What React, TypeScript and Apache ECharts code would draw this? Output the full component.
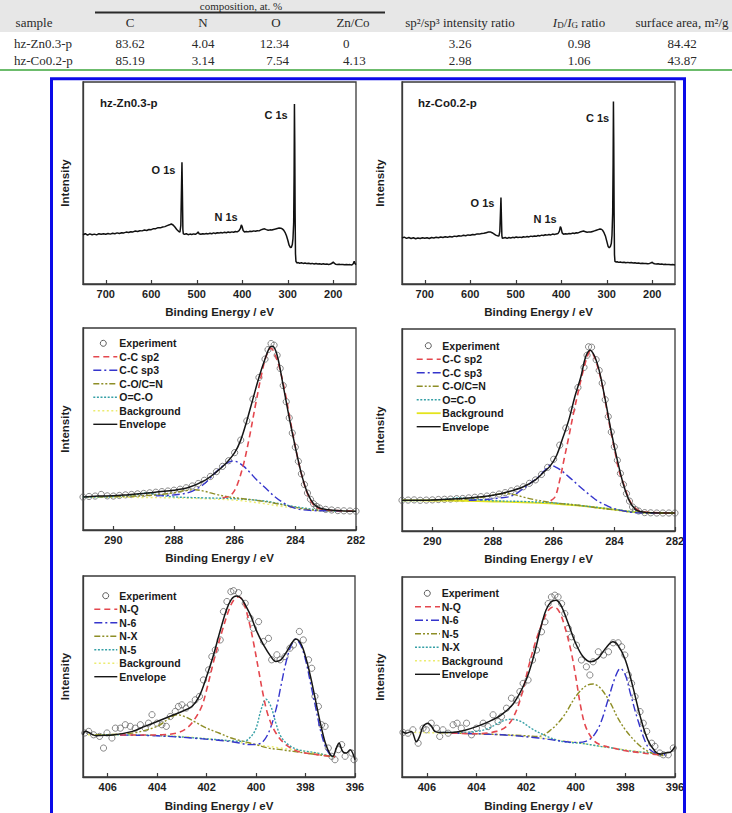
import React, { useEffect, useRef } from "react";
import * as echarts from "echarts";

type P = [number, number][];

// ---------- table ----------
const TABLE_HEAD = ["sample", "C", "N", "O", "Zn/Co", "sp²/sp³ intensity ratio", "{i|I}{s|D}/{i|I}{s|G} ratio", "surface area, m²/g"];
const ROW_ZN = ["hz-Zn0.3-p", "83.62", "4.04", "12.34", "0", "3.26", "0.98", "84.42"];
const ROW_CO = ["hz-Co0.2-p", "85.19", "3.14", "7.54", "4.13", "2.98", "1.06", "43.87"];

// ---------- survey spectra ----------
const surveyZn: P = [[750,24.4],[745,24.9],[740,24.2],[735,24.8],[730,24.4],[725,24.7],[720,24.3],[715,24.9],[710,24.6],[705,24.9],[700,24.6],[695,25.0],[690,24.7],[685,25.1],[680,24.9],[675,25.3],[670,25.0],[665,25.4],[660,25.3],[655,25.7],[650,25.5],[645,25.9],[640,25.8],[635,26.2],[630,26.0],[625,26.4],[620,26.3],[615,26.7],[610,26.5],[605,27.0],[600,26.9],[595,27.4],[590,27.4],[585,27.9],[580,27.8],[575,28.2],[570,28.4],[565,28.9],[560,29.3],[556,29.7],[552,29.2],[548,28.2],[544,27.0],[540,26.1],[537,25.7],[535,29],[533.5,48],[532.5,60.3],[531.5,45],[530.5,27],[529.5,24.8],[527,24.6],[523,24.9],[519,24.4],[515,24.7],[511,24.5],[507,24.8],[503,24.6],[499,25.2],[497,25.8],[495,24.9],[491,24.6],[487,24.9],[483,24.7],[479,25.0],[475,24.8],[471,25.1],[467,24.9],[463,25.3],[459,25.0],[455,25.4],[451,25.2],[447,25.5],[443,25.3],[439,25.6],[435,25.4],[431,25.7],[427,25.5],[423,25.8],[419,25.6],[415,26.0],[411,25.8],[407,26.4],[404,27.5],[402,29.3],[400.5,28.6],[398,26.5],[395,25.7],[391,26.0],[387,25.8],[383,26.1],[379,26.0],[375,26.3],[371,26.1],[367,26.4],[363,26.3],[359,26.8],[355,27.1],[351,27.3],[347,26.9],[343,26.6],[339,26.8],[335,26.7],[331,27.0],[327,27.2],[323,27.5],[319,27.7],[315,27.6],[312,27.3],[309,26.7],[306,25.6],[303,24.0],[300,21.8],[297,19.2],[294,18.0],[292,18.2],[290,19.5],[288.5,22.5],[287,30],[286,55],[285.3,89.1],[284.6,70],[283.8,35],[283,15],[282,11.2],[280,10.4],[277,10.6],[274,10.3],[270,10.5],[266,10.2],[262,10.4],[258,10.1],[254,10.3],[250,10.0],[246,10.2],[242,9.9],[238,10.1],[234,9.9],[230,10.0],[226,9.8],[222,10.0],[218,9.8],[214,9.9],[210,9.7],[206,9.9],[202,10.4],[200,10.9],[198,10.3],[195,9.8],[191,9.7],[187,9.8],[183,9.6],[179,9.7],[175,9.5],[171,9.6],[167,9.5],[163,9.6],[159,9.4],[156,10.0],[154,11.3],[152,10.0],[150,9.6]];

const surveyCo: P = [[750,22.8],[745,23.2],[740,22.6],[735,23.0],[730,22.5],[725,22.9],[720,22.4],[715,22.8],[710,22.5],[705,22.9],[700,22.6],[695,22.9],[690,22.5],[685,23.0],[680,22.8],[675,23.1],[670,22.9],[665,23.3],[660,23.0],[655,23.4],[650,23.1],[645,23.5],[640,23.3],[635,23.7],[630,23.5],[625,23.9],[620,23.7],[615,24.1],[610,23.9],[605,24.3],[600,24.1],[595,24.5],[590,24.4],[585,24.8],[580,24.7],[575,25.0],[570,25.1],[565,25.4],[560,25.7],[556,25.8],[552,25.4],[548,24.8],[544,24.2],[540,23.9],[537,23.7],[535,26],[533.5,36],[532.5,42.8],[531.5,33],[530.5,24],[529.5,22.6],[527,22.8],[523,23.0],[519,22.6],[515,23.0],[511,22.8],[507,23.1],[503,22.9],[499,23.3],[495,23.0],[491,23.2],[487,23.0],[483,23.4],[479,23.2],[475,23.5],[471,23.3],[467,23.7],[463,23.5],[459,23.8],[455,23.6],[451,24.0],[447,23.8],[443,24.2],[439,24.0],[435,24.4],[431,24.2],[427,24.5],[423,24.3],[419,24.7],[415,24.5],[411,24.8],[407,25.0],[404,26.2],[402,28.4],[400.5,27.8],[398,25.3],[395,24.6],[391,24.9],[387,24.7],[383,25.0],[379,24.9],[375,25.2],[371,25.0],[367,25.4],[363,25.3],[359,25.7],[355,26.0],[351,26.2],[347,25.9],[343,25.6],[339,25.8],[335,25.7],[331,26.0],[327,26.3],[323,26.6],[319,26.9],[315,27.2],[312,27.1],[309,26.6],[306,25.4],[303,23.8],[300,21.2],[297,18.6],[294.5,18.0],[292,18.6],[290,20.0],[288.5,24],[287,35],[286,60],[285.3,90.4],[284.6,70],[283.8,35],[283,14.5],[282,11.2],[280,10.9],[277,11.0],[274,10.7],[270,10.9],[266,10.6],[262,10.8],[258,10.5],[254,10.7],[250,10.5],[246,10.6],[242,10.4],[238,10.5],[234,10.3],[230,10.4],[226,10.2],[222,10.3],[218,10.1],[214,10.2],[210,10.0],[206,10.2],[202,10.5],[200,10.8],[198,10.3],[195,10.0],[191,9.9],[187,10.0],[183,9.8],[179,9.9],[175,9.7],[171,9.8],[167,9.6],[163,9.7],[159,9.5],[155,9.6],[150,9.4]];

// ---------- C 1s, hz-Zn0.3-p ----------
const c1sZnExp: P = [[291.0,16.3],[290.8,16.6],[290.6,16.8],[290.4,17.6],[290.2,16.9],[290.0,16.8],[289.8,17.1],[289.6,17.4],[289.4,17.6],[289.2,17.9],[289.0,18.1],[288.8,18.4],[288.6,18.7],[288.4,19.0],[288.2,19.3],[288.0,19.7],[287.8,20.2],[287.6,20.9],[287.4,21.8],[287.2,23.0],[287.0,24.6],[286.8,26.5],[286.6,28.9],[286.4,31.5],[286.2,34.3],[286.0,38.3],[285.8,44.5],[285.6,54.0],[285.4,64.8],[285.2,75.5],[285.0,84.6],[284.9,89.3],[284.8,92.3],[284.7,91.5],[284.6,86.5],[284.5,80.0],[284.4,71.5],[284.3,63.5],[284.2,55.5],[284.1,48.0],[284.0,41.0],[283.9,34.0],[283.8,27.8],[283.7,22.5],[283.6,18.3],[283.5,15.2],[283.4,13.0],[283.3,11.7],[283.2,10.9],[283.0,10.2],[282.8,9.9],[282.6,9.6],[282.4,9.5],[282.2,9.4],[282.0,9.3]];
const c1sZnEnv: P = [[291.0,16.3],[290.5,16.8],[290.0,16.9],[289.5,17.5],[289.0,18.1],[288.5,18.9],[288.0,19.7],[287.5,21.2],[287.0,24.4],[286.6,28.8],[286.3,32.8],[286.0,38.3],[285.8,44.5],[285.6,54.0],[285.4,64.8],[285.2,75.5],[285.0,84.6],[284.85,90.3],[284.75,91.0],[284.6,86.5],[284.4,71.5],[284.2,55.5],[284.0,41.0],[283.8,27.8],[283.6,18.3],[283.4,13.0],[283.2,10.9],[283.0,10.2],[282.5,9.5],[282.0,9.3]];
const c1sZnSp2: P = [[286.4,16.0],[286.2,16.6],[286.05,18.5],[285.9,23.0],[285.7,33.0],[285.5,47.0],[285.3,63.0],[285.1,78.0],[284.95,86.5],[284.8,90.0],[284.65,86.0],[284.5,79.0],[284.35,69.0],[284.2,57.0],[284.05,45.0],[283.9,34.0],[283.75,25.0],[283.6,18.0],[283.45,13.5],[283.3,11.2],[283.1,10.2],[282.9,9.8],[282.5,9.5],[282.0,9.3]];
const c1sZnSp3: P = [[288.6,16.9],[288.2,17.1],[287.8,17.7],[287.5,18.6],[287.2,20.8],[287.0,22.9],[286.8,25.8],[286.6,28.9],[286.4,31.6],[286.2,33.6],[286.05,34.2],[285.9,33.6],[285.7,31.5],[285.5,28.5],[285.3,25.2],[285.0,21.0],[284.7,16.8],[284.4,13.5],[284.1,11.2],[283.8,10.1],[283.4,9.6],[283.0,9.5],[282.5,9.4]];
const c1sZnCO: P = [[290.5,16.4],[289.5,16.7],[288.5,17.5],[288.0,18.5],[287.6,19.6],[287.3,19.9],[287.0,19.2],[286.6,17.6],[286.2,16.4],[285.8,15.6],[285.2,14.5],[284.6,13.0],[284.0,11.2],[283.5,10.0],[283.0,9.6],[282.5,9.4]];
const c1sZnOCO: P = [[291.0,16.3],[290.0,16.5],[289.3,17.3],[288.9,18.3],[288.5,17.3],[288.0,16.4],[287.0,15.9],[286.0,15.5],[285.0,14.3],[284.0,11.5],[283.0,9.6],[282.5,9.4]];
const c1sZnBg: P = [[291.0,16.2],[290.0,16.2],[289.0,16.1],[288.0,15.9],[287.0,15.5],[286.0,14.8],[285.5,14.0],[285.0,13.0],[284.5,11.8],[284.0,10.8],[283.5,9.9],[283.0,9.5],[282.0,9.3]];

// ---------- C 1s, hz-Co0.2-p ----------
const c1sCoExp: P = [[291.0,15.2],[290.8,15.3],[290.6,15.4],[290.4,15.2],[290.2,15.3],[290.0,15.4],[289.8,15.6],[289.6,15.7],[289.4,15.8],[289.2,16.0],[289.0,16.1],[288.8,16.4],[288.6,16.7],[288.4,17.0],[288.2,17.3],[288.0,17.7],[287.8,18.3],[287.6,19.0],[287.4,19.9],[287.2,20.8],[287.0,21.9],[286.8,23.6],[286.6,25.3],[286.4,28.0],[286.2,31.5],[286.0,35.5],[285.8,42.5],[285.6,51.0],[285.4,60.0],[285.2,71.0],[285.0,81.0],[284.9,87.0],[284.85,91.2],[284.75,91.0],[284.6,84.8],[284.5,79.5],[284.4,73.2],[284.3,65.0],[284.2,56.6],[284.1,49.0],[284.0,41.7],[283.9,35.0],[283.8,28.5],[283.7,23.0],[283.6,18.5],[283.5,14.8],[283.4,11.9],[283.3,10.6],[283.2,9.9],[283.0,9.1],[282.8,9.0],[282.6,8.9],[282.4,8.9],[282.2,8.9],[282.0,8.9]];
const c1sCoEnv: P = [[291.0,15.2],[290.0,15.4],[289.0,16.1],[288.5,16.8],[288.0,17.7],[287.5,19.4],[287.0,21.9],[286.6,25.3],[286.3,29.5],[286.1,32.5],[285.9,37.5],[285.7,46.0],[285.5,55.0],[285.3,66.6],[285.1,76.5],[284.95,86.0],[284.8,89.5],[284.65,86.5],[284.5,79.5],[284.3,65.0],[284.1,49.0],[283.9,35.0],[283.7,23.0],[283.5,14.8],[283.3,10.6],[283.1,9.5],[282.8,9.0],[282.0,8.9]];
const c1sCoSp2: P = [[286.1,15.0],[285.95,17.0],[285.8,25.2],[285.65,36.0],[285.5,46.7],[285.35,58.0],[285.2,68.2],[285.05,78.0],[284.9,86.0],[284.8,88.9],[284.7,87.5],[284.6,83.9],[284.4,72.4],[284.2,55.8],[284.0,40.9],[283.85,30.0],[283.7,23.5],[283.55,17.0],[283.4,12.7],[283.2,10.2],[283.0,9.4],[282.5,9.0],[282.0,8.9]];
const c1sCoSp3: P = [[288.8,15.2],[288.3,15.5],[287.8,16.3],[287.5,16.9],[287.2,18.8],[287.0,21.0],[286.8,23.3],[286.5,26.8],[286.3,30.0],[286.1,32.6],[285.95,31.8],[285.8,30.5],[285.5,26.8],[285.2,22.8],[285.0,20.2],[284.7,16.5],[284.5,14.4],[284.2,12.2],[284.0,11.1],[283.5,9.4],[283.0,8.9],[282.5,8.9]];
const c1sCoCO: P = [[290.0,15.2],[289.0,15.6],[288.3,16.8],[287.9,18.0],[287.6,18.5],[287.3,18.0],[287.0,16.8],[286.6,15.4],[286.0,14.0],[285.5,13.2],[285.0,12.4],[284.5,11.3],[284.0,10.5],[283.5,9.5],[283.0,9.0],[282.5,8.9]];
const c1sCoOCO: P = [[291.0,15.1],[290.0,15.2],[289.5,15.8],[289.1,16.4],[288.7,15.8],[288.0,15.0],[287.0,14.6],[286.0,13.9],[285.0,12.4],[284.0,10.7],[283.0,9.0],[282.5,8.9]];
const c1sCoBg: P = [[291.0,15.2],[290.0,15.1],[289.0,14.9],[288.0,14.6],[287.5,14.4],[287.0,14.2],[286.5,13.9],[286.0,13.6],[285.5,13.0],[285.0,12.3],[284.5,11.5],[284.0,10.6],[283.5,9.6],[283.0,9.1],[282.5,8.9],[282.0,8.9]];

// ---------- N 1s, hz-Zn0.3-p ----------
const n1sZnExp: P = [[406.93,21.9],[406.77,22.7],[406.57,21.0],[406.33,20.2],[406.17,14.4],[406.03,21.9],[405.83,19.4],[405.69,24.3],[405.49,24.3],[405.29,26.0],[405.09,25.2],[404.89,24.3],[404.68,26.0],[404.48,24.3],[404.35,26.8],[404.21,31.0],[404.01,26.8],[403.81,26.0],[403.63,25.2],[403.47,30.1],[403.27,32.6],[403.14,35.1],[403.0,35.9],[402.83,34.3],[402.66,35.9],[402.46,38.4],[402.29,40.1],[402.13,48.3],[401.92,53.3],[401.79,59.9],[401.65,63.2],[401.45,68.2],[401.32,82.3],[401.18,87.3],[401.02,92.2],[400.91,92.7],[400.71,91.7],[400.44,86.4],[400.24,79.0],[400.11,74.0],[399.9,77.3],[399.7,67.4],[399.5,69.0],[399.37,58.3],[399.16,60.8],[399.03,58.3],[398.83,59.9],[398.63,64.1],[398.49,65.7],[398.25,72.4],[398.09,68.2],[397.88,58.3],[397.75,54.1],[397.62,40.1],[397.48,35.1],[397.35,26.0],[397.21,25.2],[397.08,14.4],[396.94,10.3],[396.81,8.6],[396.67,13.6],[396.54,16.1],[396.4,10.3],[396.13,11.9],[396.04,8.6]];
const n1sZnEnv: P = [[407.0,21.0],[406.9,22.8],[406.75,22.0],[406.6,21.0],[406.45,20.5],[406.3,20.7],[405.8,20.9],[405.0,22.7],[404.5,25.2],[404.0,27.6],[403.5,30.1],[403.0,32.6],[402.6,35.1],[402.3,40.1],[402.0,50.0],[401.7,61.6],[401.5,70.7],[401.2,83.1],[401.0,88.4],[400.8,90.1],[400.6,88.9],[400.4,84.8],[400.2,79.8],[400.0,73.2],[399.7,65.7],[399.4,59.9],[399.2,57.5],[399.0,58.3],[398.8,61.6],[398.6,65.7],[398.4,68.7],[398.2,66.6],[398.0,59.9],[397.8,50.0],[397.6,38.4],[397.4,26.8],[397.2,16.9],[397.0,11.1],[396.9,10.3],[396.75,14.5],[396.65,16.9],[396.5,12.7],[396.35,11.9],[396.2,13.6],[396.0,8.6]];
const n1sZnNQ: P = [[405.5,20.9],[404.5,20.9],[403.8,21.0],[403.2,21.9],[402.8,24.3],[402.5,28.5],[402.2,35.1],[402.0,43.4],[401.7,58.3],[401.4,71.5],[401.1,83.1],[400.9,88.1],[400.7,89.7],[400.5,86.4],[400.3,78.1],[400.1,66.6],[399.9,53.3],[399.7,40.1],[399.5,30.1],[399.2,21.9],[398.8,16.1],[398.3,12.7],[397.8,11.6],[397.0,10.3],[396.8,10.1]];
const n1sZnN6: P = [[405.5,20.9],[404.0,20.5],[402.5,19.3],[401.0,17.6],[400.2,16.1],[399.8,16.9],[399.5,21.9],[399.2,33.4],[399.0,45.0],[398.8,56.6],[398.6,64.9],[398.4,68.5],[398.2,65.7],[398.0,58.3],[397.8,46.7],[397.6,35.1],[397.4,23.5],[397.2,15.2],[397.0,11.1],[396.8,10.3]];
const n1sZnNX: P = [[406.5,21.0],[405.0,21.9],[404.0,25.2],[403.5,29.3],[403.2,31.0],[402.9,30.1],[402.5,27.6],[402.0,24.3],[401.5,21.9],[401.0,19.4],[400.5,17.7],[400.0,16.1],[399.5,14.4],[399.0,13.6],[398.0,11.9],[397.0,10.3],[396.8,10.1]];
const n1sZnN5: P = [[406.5,21.0],[404.0,20.6],[402.0,19.0],[401.0,18.0],[400.5,17.7],[400.2,20.2],[400.0,24.3],[399.8,33.4],[399.6,38.7],[399.4,35.1],[399.2,26.8],[399.0,20.2],[398.7,16.1],[398.3,13.6],[397.5,11.9],[397.0,10.3],[396.8,10.1]];
const n1sZnBg: P = [[406.8,21.0],[405.0,21.0],[404.0,20.7],[403.0,20.2],[402.0,19.0],[401.0,17.7],[400.0,16.1],[399.0,14.4],[398.0,12.7],[397.0,10.6],[396.8,10.3]];

// ---------- N 1s, hz-Co0.2-p ----------
const n1sCoExp: P = [[406.96,22.3],[406.76,21.9],[406.56,23.6],[406.35,16.9],[406.15,24.4],[406.02,23.6],[405.82,26.9],[405.61,24.4],[405.48,20.3],[405.35,23.6],[405.14,21.9],[404.94,26.1],[404.78,26.9],[404.61,24.4],[404.4,26.9],[404.2,21.1],[404.0,24.4],[403.73,26.9],[403.53,25.2],[403.33,31.1],[403.13,27.7],[402.99,30.2],[402.79,34.4],[402.59,39.4],[402.39,38.5],[402.25,42.7],[402.12,46.8],[401.92,48.5],[401.74,58.5],[401.58,63.5],[401.38,72.6],[401.24,77.6],[401.11,86.7],[400.98,90.0],[400.84,90.9],[400.71,90.0],[400.57,86.7],[400.44,81.7],[400.3,74.3],[400.17,70.1],[399.97,65.9],[399.77,58.5],[399.57,55.1],[399.43,51.0],[399.3,57.6],[399.09,62.6],[398.88,61.0],[398.68,62.6],[398.49,67.1],[398.29,67.1],[398.15,65.1],[398.02,61.0],[397.88,51.0],[397.75,46.8],[397.61,40.2],[397.41,32.7],[397.28,26.9],[397.14,22.8],[396.94,16.9],[396.81,15.3],[396.61,12.0],[396.47,11.1],[396.27,11.1],[396.07,14.5]];
const n1sCoEnv: P = [[407.0,22.8],[406.83,21.9],[406.62,22.8],[406.42,17.6],[406.29,20.3],[406.15,25.2],[405.95,26.9],[405.82,25.5],[405.68,22.8],[405.48,22.3],[405.0,22.3],[404.5,23.3],[404.0,25.2],[403.5,27.7],[403.0,31.1],[402.5,36.9],[402.0,48.5],[401.7,60.1],[401.4,75.1],[401.2,83.4],[401.0,87.5],[400.8,88.4],[400.6,85.9],[400.3,76.7],[400.0,66.8],[399.7,60.1],[399.4,57.6],[399.1,59.3],[398.8,64.3],[398.5,67.6],[398.3,65.9],[398.0,58.5],[397.7,45.2],[397.4,30.2],[397.1,18.6],[396.8,12.8],[396.6,11.5],[396.4,12.0],[396.2,12.3],[396.0,15.3]];
const n1sCoNQ: P = [[405.0,22.0],[404.0,21.6],[403.2,22.8],[402.8,25.2],[402.5,30.2],[402.2,40.2],[401.9,55.1],[401.6,68.4],[401.3,78.4],[401.1,83.4],[400.9,85.0],[400.7,83.4],[400.5,77.6],[400.2,63.5],[400.0,50.2],[399.8,35.2],[399.6,25.2],[399.3,18.6],[399.0,16.1],[398.5,14.5],[398.0,13.1],[397.5,12.3],[397.0,11.5],[396.6,11.1]];
const n1sCoN6: P = [[405.0,22.0],[403.0,21.1],[401.5,19.5],[400.5,17.8],[400.0,17.3],[399.6,17.8],[399.3,20.3],[399.0,26.9],[398.7,38.5],[398.4,50.2],[398.2,54.3],[398.0,51.0],[397.8,41.9],[397.5,28.6],[397.2,17.8],[397.0,13.6],[396.7,11.5],[396.4,11.1]];
const n1sCoN5: P = [[405.0,22.0],[403.0,21.2],[402.0,20.6],[401.5,20.3],[401.0,23.6],[400.5,30.2],[400.0,40.2],[399.6,45.5],[399.3,46.5],[399.0,44.4],[398.6,36.9],[398.3,29.4],[398.0,23.6],[397.6,17.8],[397.2,13.6],[396.8,11.5],[396.4,10.6]];
const n1sCoNX: P = [[405.5,22.3],[405.0,22.3],[404.0,22.8],[403.5,24.4],[403.0,27.7],[402.6,28.9],[402.2,27.7],[401.8,24.4],[401.3,21.1],[400.8,18.6],[400.3,17.3],[399.8,16.9],[399.0,15.3],[398.5,14.5],[398.0,13.3],[397.0,12.0],[396.6,11.5]];
const n1sCoBg: P = [[406.5,22.3],[405.0,21.9],[404.0,21.6],[403.0,21.1],[402.0,20.3],[401.0,18.9],[400.0,17.3],[399.0,15.3],[398.0,13.6],[397.0,12.0],[396.5,11.1]];

// ---------- axes ----------
const SURVEY_TICKS = [200, 300, 400, 500, 600, 700];
const C1S_TICKS = [282, 284, 286, 288, 290];
const N1S_TICKS = [396, 398, 400, 402, 404, 406];

const SANS = '"Liberation Sans", Arial, sans-serif';
const SERIF = '"Liberation Serif", "Times New Roman", serif';
const FRAME = "#3a3a3a";

const COL = {
  red: "#e4474e",
  blue: "#3535cc",
  olive: "#8e8e26",
  teal: "#36a0a6",
  yellowDot: "#ecec70",
  yellow: "#e4e41c",
  env: "#161616",
  exp: "#5a5a5a",
};
const DASH: Record<string, number[] | string> = {
  red: [6, 4],
  blue: [8, 3, 2, 3],
  olive: [6, 2, 2, 2, 2, 2],
  teal: [2, 1.6],
  yellowDot: [2, 2.5],
};

const GRIDS = [
  { left: 83, top: 82, width: 273, height: 202 },
  { left: 402, top: 82, width: 273, height: 202 },
  { left: 83, top: 328, width: 273, height: 202 },
  { left: 402, top: 329, width: 273, height: 202 },
  { left: 83, top: 576, width: 272, height: 201 },
  { left: 402, top: 577, width: 273, height: 200 },
];

function lineS(name: string, data: P, g: number, color: string, dash: any, width = 1.4, smooth: any = 0.35) {
  return {
    type: "line", name, data, xAxisIndex: g, yAxisIndex: g, symbol: "none", smooth,
    lineStyle: { color, width, type: dash }, itemStyle: { color }, silent: true, z: 3,
  };
}
function expS(data: P, g: number) {
  return {
    type: "scatter", name: "Experiment", data, xAxisIndex: g, yAxisIndex: g, symbol: "circle", symbolSize: 6.2,
    itemStyle: { color: "rgba(255,255,255,0)", borderColor: COL.exp, borderWidth: 0.9 }, silent: true, z: 2,
  };
}

type LegItem = { name: string; kind: "circle" | "line"; color?: string; dash?: any; width?: number };

function legend(g: number, cx: number, cy: number, lx0: number, lx1: number, tx: number, items: LegItem[]) {
  const gr = GRIDS[g];
  const els: any[] = [];
  items.forEach((it, i) => {
    const y = gr.top + cy + i * 13.5;
    if (it.kind === "circle") {
      els.push({ type: "circle", shape: { cx: gr.left + cx, cy: y, r: 3 }, style: { fill: "none", stroke: COL.exp, lineWidth: 1 }, z: 10 });
    } else {
      els.push({
        type: "line", shape: { x1: gr.left + lx0, y1: y, x2: gr.left + lx1, y2: y },
        style: { stroke: it.color, lineWidth: it.width ?? 1.4, lineDash: Array.isArray(it.dash) ? it.dash : null }, z: 10,
      });
    }
    els.push(txt(it.name, gr.left + tx, y, "bold 10.5px " + SANS, "#1a1a1a", "left"));
  });
  return els;
}

function txt(text: string, x: number, y: number, font: string, fill: string, align: string, extra: any = {}) {
  return {
    type: "text", z: 10,
    style: { text, x, y, font, fill, align, verticalAlign: "middle", textAlign: align, textVerticalAlign: "middle", ...extra },
  };
}

export default function App() {
  const ref = useRef<HTMLDivElement>(null);
  useEffect(() => {
    document.body.style.margin = "0";
    const chart = echarts.init(ref.current!, null, { renderer: "svg" });

    const ranges = [
      [150, 750, SURVEY_TICKS], [150, 750, SURVEY_TICKS],
      [282, 291, C1S_TICKS], [282, 291, C1S_TICKS],
      [396, 407, N1S_TICKS], [396, 407, N1S_TICKS],
    ] as [number, number, number[]][];

    const xAxis = ranges.map(([mn, mx, ticks], i) => ({
      gridIndex: i, type: "value", inverse: true, min: mn, max: mx,
      axisLine: { show: true, onZero: false, lineStyle: { color: FRAME, width: 1.3 } },
      axisTick: { show: true, inside: true, length: 4, customValues: ticks, lineStyle: { color: FRAME, width: 1.2 } },
      axisLabel: { customValues: ticks, color: "#1e1e1e", fontWeight: "bold", fontSize: 11, fontFamily: SANS, margin: 4 },
      splitLine: { show: false },
      name: "Binding Energy / eV", nameLocation: "middle", nameGap: i >= 4 ? 23 : 22,
      nameTextStyle: { color: "#1e1e1e", fontWeight: "bold", fontSize: 11.5, fontFamily: SANS },
    }));
    const yAxis = GRIDS.map((_, i) => ({
      gridIndex: i, type: "value", min: 0, max: 100,
      axisLine: { show: true, lineStyle: { color: FRAME, width: 1.3 } },
      axisTick: { show: false }, axisLabel: { show: false }, splitLine: { show: false },
      name: "Intensity", nameLocation: "middle", nameRotate: 90, nameGap: i % 2 === 0 ? 12 : 16,
      nameTextStyle: { color: "#1e1e1e", fontWeight: "bold", fontSize: 11.5, fontFamily: SANS },
    }));

    const series: any[] = [
      lineS("survey Zn", surveyZn, 0, "#111", "solid", 1.5, false),
      lineS("survey Co", surveyCo, 1, "#111", "solid", 1.5, false),

      expS(c1sZnExp, 2),
      lineS("Background", c1sZnBg, 2, COL.yellowDot, DASH.yellowDot, 1.4),
      lineS("O=C-O", c1sZnOCO, 2, COL.teal, DASH.teal),
      lineS("C-O/C=N", c1sZnCO, 2, COL.olive, DASH.olive),
      lineS("C-C sp3", c1sZnSp3, 2, COL.blue, DASH.blue),
      lineS("C-C sp2", c1sZnSp2, 2, COL.red, DASH.red, 1.6),
      lineS("Envelope", c1sZnEnv, 2, COL.env, "solid", 1.5),

      expS(c1sCoExp, 3),
      lineS("Background", c1sCoBg, 3, COL.yellow, "solid", 1.8),
      lineS("O=C-O", c1sCoOCO, 3, COL.teal, DASH.teal),
      lineS("C-O/C=N", c1sCoCO, 3, COL.olive, DASH.olive),
      lineS("C-C sp3", c1sCoSp3, 3, COL.blue, DASH.blue),
      lineS("C-C sp2", c1sCoSp2, 3, COL.red, DASH.red, 1.6),
      lineS("Envelope", c1sCoEnv, 3, COL.env, "solid", 1.5),

      expS(n1sZnExp, 4),
      lineS("Background", n1sZnBg, 4, COL.yellowDot, DASH.yellowDot, 1.4),
      lineS("N-5", n1sZnN5, 4, COL.teal, DASH.teal),
      lineS("N-X", n1sZnNX, 4, COL.olive, DASH.olive),
      lineS("N-6", n1sZnN6, 4, COL.blue, DASH.blue),
      lineS("N-Q", n1sZnNQ, 4, COL.red, DASH.red, 1.6),
      lineS("Envelope", n1sZnEnv, 4, COL.env, "solid", 1.5),

      expS(n1sCoExp, 5),
      lineS("Background", n1sCoBg, 5, COL.yellowDot, DASH.yellowDot, 1.4),
      lineS("N-X", n1sCoNX, 5, COL.teal, DASH.teal),
      lineS("N-5", n1sCoN5, 5, COL.olive, DASH.olive),
      lineS("N-6", n1sCoN6, 5, COL.blue, DASH.blue),
      lineS("N-Q", n1sCoNQ, 5, COL.red, DASH.red, 1.6),
      lineS("Envelope", n1sCoEnv, 5, COL.env, "solid", 1.5),
    ];

    // table
    const tFont = "13px " + SERIF;
    const tFill = "#2a2a2a";
    const colX = [14, 130, 203, 289, 343, 460, 579, 682];
    const colAlign = ["left", "center", "center", "right", "left", "center", "center", "center"];
    const headX = [34, 130, 203, 276, 353, 460, 579, 682];
    const graphic: any[] = [
      { type: "rect", shape: { x: 0, y: 0, width: 732, height: 32 }, style: { fill: "#e7e7e7" }, z: 1 },
      txt("composition, at. %", 241, 6, "11px " + SERIF, tFill, "center"),
      { type: "line", shape: { x1: 95, y1: 12.5, x2: 385, y2: 12.5 }, style: { stroke: "#2a2a2a", lineWidth: 2 }, z: 5 },
      { type: "line", shape: { x1: 0, y1: 70, x2: 732, y2: 70 }, style: { stroke: "#6cbc6c", lineWidth: 2 }, z: 5 },
    ];
    TABLE_HEAD.forEach((h, i) => {
      const extra = i === 6 ? { rich: {
        i: { fontStyle: "italic", fontSize: 13, fontFamily: SERIF, fill: tFill },
        s: { fontSize: 9, fontFamily: SERIF, fill: tFill, padding: [6, 0, 0, 0] },
      } } : {};
      graphic.push(txt(h, headX[i], 22, tFont, tFill, "center", extra));
    });
    [ROW_ZN, ROW_CO].forEach((row, r) => {
      row.forEach((v, i) => graphic.push(txt(v, colX[i], r === 0 ? 43 : 60, tFont, tFill, colAlign[i])));
    });

    // blue frame
    graphic.push({ type: "rect", shape: { x: 51.5, y: 78.8, width: 633, height: 800 }, style: { fill: "none", stroke: "#0b0be8", lineWidth: 3 }, z: 20 });

    // survey labels
    const lf = "bold 11.5px " + SANS;
    const pf = "bold 11px " + SANS;
    graphic.push(txt("hz-Zn0.3-p", 100, 103, lf, "#1a1a1a", "left"));
    graphic.push(txt("hz-Co0.2-p", 418, 103, lf, "#1a1a1a", "left"));
    graphic.push(txt("C 1s", 276, 115, pf, "#1a1a1a", "center"));
    graphic.push(txt("O 1s", 163.5, 170, pf, "#1a1a1a", "center"));
    graphic.push(txt("N 1s", 226, 217, pf, "#1a1a1a", "center"));
    graphic.push(txt("C 1s", 597.5, 118, pf, "#1a1a1a", "center"));
    graphic.push(txt("O 1s", 482.5, 203, pf, "#1a1a1a", "center"));
    graphic.push(txt("N 1s", 545, 219, pf, "#1a1a1a", "center"));

    const cItems = (bgSolid: boolean): LegItem[] => [
      { name: "Experiment", kind: "circle" },
      { name: "C-C sp2", kind: "line", color: COL.red, dash: DASH.red, width: 1.6 },
      { name: "C-C sp3", kind: "line", color: COL.blue, dash: DASH.blue },
      { name: "C-O/C=N", kind: "line", color: COL.olive, dash: DASH.olive },
      { name: "O=C-O", kind: "line", color: COL.teal, dash: DASH.teal },
      bgSolid
        ? { name: "Background", kind: "line", color: COL.yellow, dash: "solid", width: 1.8 }
        : { name: "Background", kind: "line", color: COL.yellowDot, dash: DASH.yellowDot },
      { name: "Envelope", kind: "line", color: COL.env, dash: "solid", width: 1.4 },
    ];
    const nItems = (third: string, fourth: string): LegItem[] => [
      { name: "Experiment", kind: "circle" },
      { name: "N-Q", kind: "line", color: COL.red, dash: DASH.red, width: 1.6 },
      { name: "N-6", kind: "line", color: COL.blue, dash: DASH.blue },
      { name: third, kind: "line", color: COL.olive, dash: DASH.olive },
      { name: fourth, kind: "line", color: COL.teal, dash: DASH.teal },
      { name: "Background", kind: "line", color: COL.yellowDot, dash: DASH.yellowDot },
      { name: "Envelope", kind: "line", color: COL.env, dash: "solid", width: 1.4 },
    ];
    graphic.push(...legend(2, 20.3, 15.3, 10.3, 34.3, 36.3, cItems(false)));
    graphic.push(...legend(3, 26.3, 16.7, 14.7, 38.7, 40.3, cItems(true)));
    graphic.push(...legend(4, 22.7, 19.7, 11.3, 34.3, 36.3, nItems("N-X", "N-5")));
    graphic.push(...legend(5, 25.3, 16.3, 13, 38, 39.7, nItems("N-5", "N-X")));

    chart.setOption({
      animation: false,
      backgroundColor: "#ffffff",
      grid: GRIDS.map((g) => ({ ...g, show: true, borderColor: FRAME, borderWidth: 1.3, backgroundColor: "transparent" })),
      xAxis, yAxis, series, graphic,
    });
    return () => chart.dispose();
  }, []);
  return <div ref={ref} style={{ width: 732, height: 813, background: "#fff" }} />;
}
